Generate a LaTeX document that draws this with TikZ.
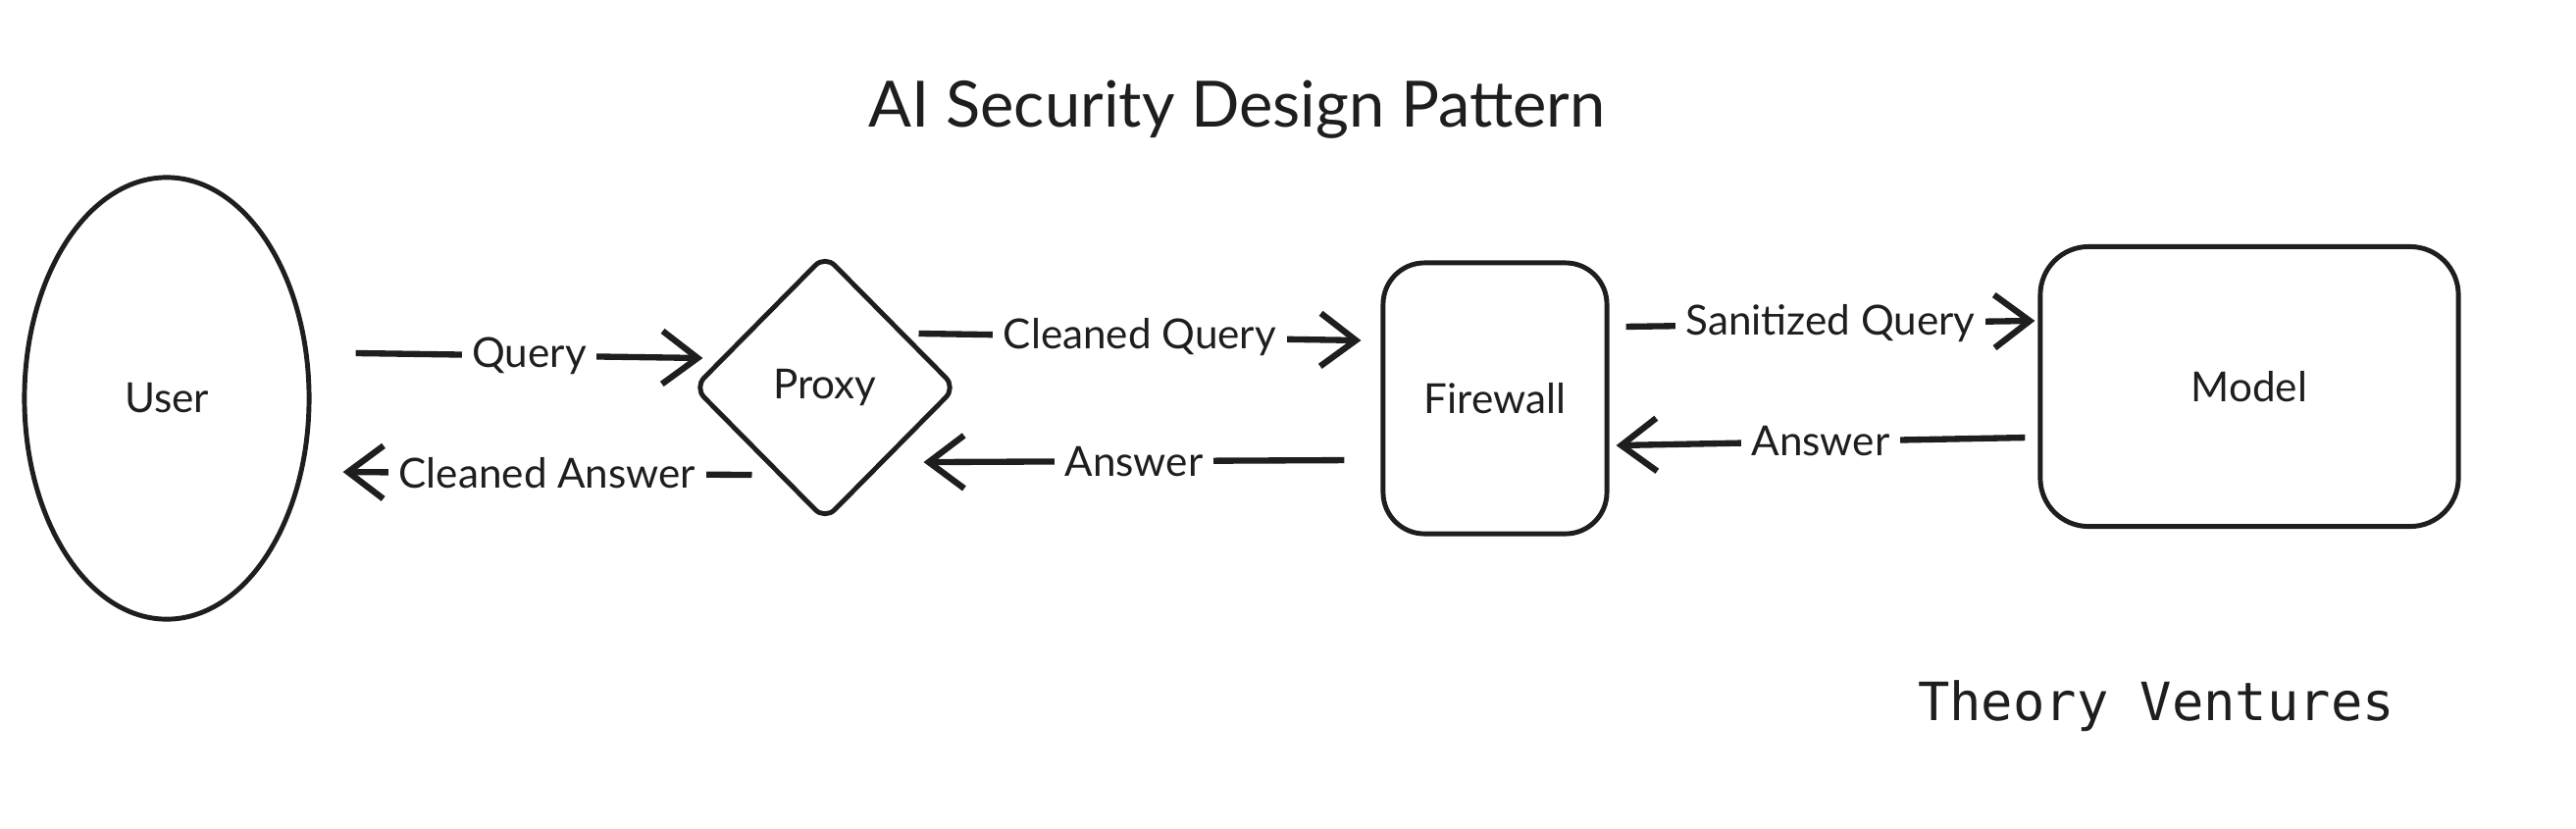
\documentclass[tikz,border=0pt]{standalone}
\usepackage{fontspec}
\setmainfont{Lato}
\setmonofont{DejaVu Sans Mono}
\usetikzlibrary{arrows.meta,shapes.geometric}
\definecolor{ink}{HTML}{1E1E1E}

\begin{document}
\begin{tikzpicture}[x=0.01cm,y=-0.01cm,>={Straight Barb[length=3.6mm,width=5.4mm]},
  part/.style={draw=ink,line width=1.4pt,text=ink,inner sep=0pt,font=\fontsize{12}{14}\selectfont},
  flow/.style={->,draw=ink,line width=1.8pt},
  lab/.style={fill=white,text=ink,inner sep=3pt,font=\fontsize{12}{14}\selectfont}]
\useasboundingbox (0,0) rectangle (2626,844);
\node[text=ink,font=\fontsize{18.5}{22}\selectfont] (title) at (1261,112) {AI Security Design Pattern};
\node[part,ellipse,minimum width=2.9cm,minimum height=4.5cm] (user) at (170,406) {User};
\node[part,diamond,rounded corners=4pt,minimum width=2.68cm,minimum height=2.71cm] (proxy) at (841,395) {Proxy};
\node[part,rounded corners=12pt,minimum width=2.28cm,minimum height=2.76cm] (firewall) at (1524,406) {Firewall};
\node[part,rounded corners=14pt,minimum width=4.26cm,minimum height=2.85cm] (model) at (2293,394) {Model};
\draw[flow] ([xshift=4.5mm,yshift=4.6mm]user.east) -- node[lab] {Query} ([xshift=1.2mm,yshift=3mm]proxy.west);
\draw[flow] ([xshift=6.2mm,yshift=-8.9mm]proxy.west) -- node[lab] {Cleaned Answer} ([xshift=3.2mm,yshift=-7.5mm]user.east);
\draw[flow] ([xshift=-4.1mm,yshift=5.5mm]proxy.east) -- node[lab] {Cleaned Query} ([xshift=-2mm,yshift=5.9mm]firewall.west);
\draw[flow] ([xshift=-3.7mm,yshift=-6.3mm]firewall.west) -- node[lab] {Answer} ([xshift=-3.6mm,yshift=-7.6mm]proxy.east);
\draw[flow] ([xshift=1.7mm,yshift=7.3mm]firewall.east) -- node[lab] {Sanitized Query} ([xshift=-0.3mm,yshift=6.7mm]model.west);
\draw[flow] ([xshift=-1.3mm,yshift=-5.2mm]model.west) -- node[lab] {Answer} ([xshift=0.7mm,yshift=-4.8mm]firewall.east);
\node[text=ink,font=\ttfamily\fontsize{15.3}{18}\selectfont] (brand) at (2198,720) {Theory Ventures};
\end{tikzpicture}
\end{document}
